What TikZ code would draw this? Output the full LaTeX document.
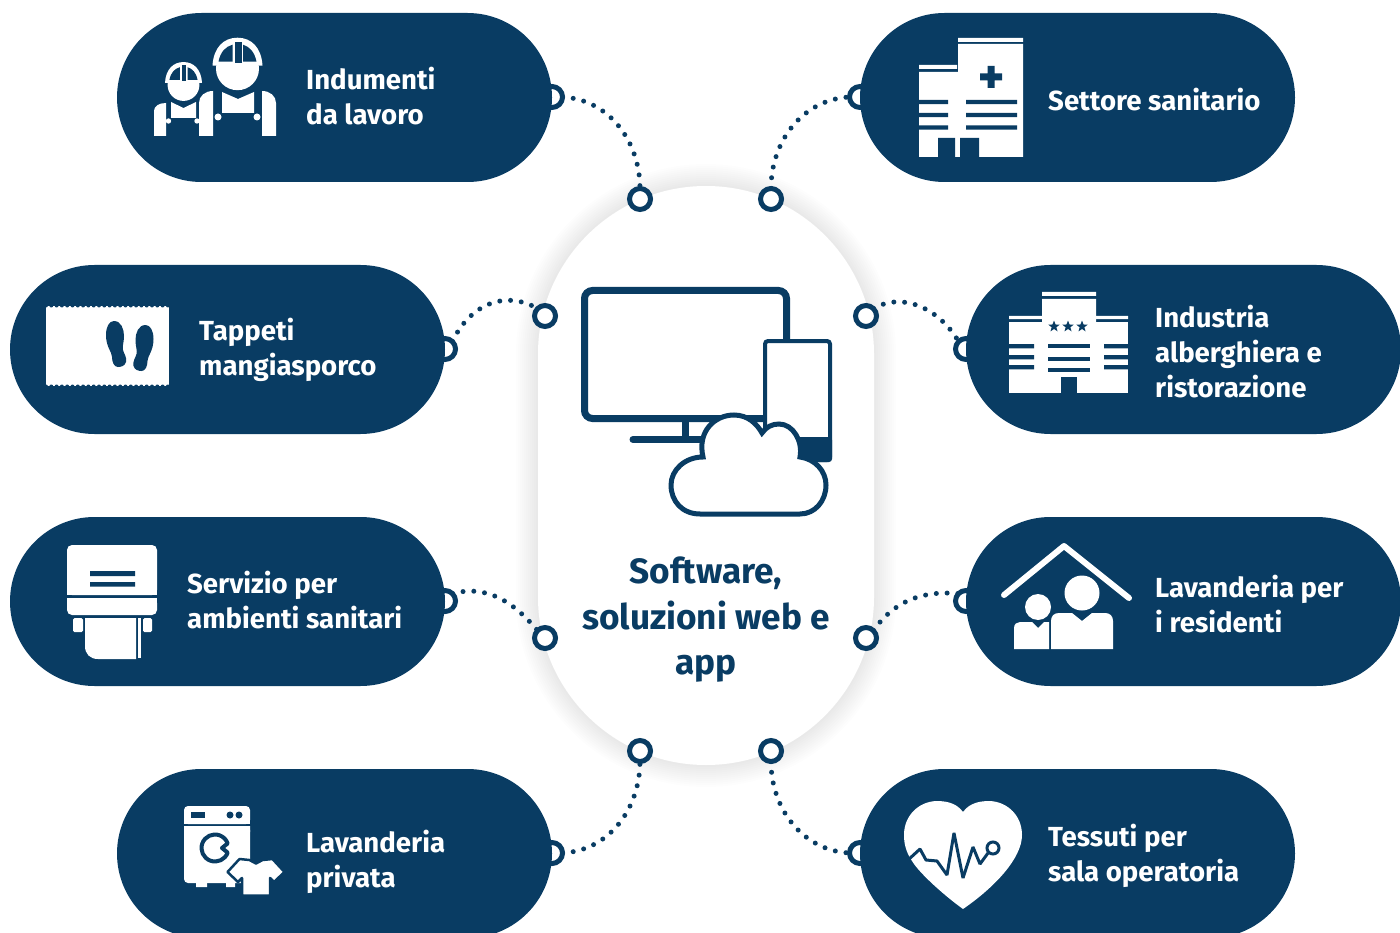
\documentclass[tikz,border=0pt]{standalone}
\usepackage{fontspec}
\setmainfont{Fira Sans}
\usetikzlibrary{shapes.geometric}
\definecolor{navy}{HTML}{093C63}
\tikzset{
  pillbox/.style={rectangle, fill=navy, rounded corners=84.5pt, minimum width=435pt, minimum height=169pt, inner sep=0pt, outer sep=0pt},
  hubbox/.style={rectangle, fill=white, rounded corners=168pt, minimum width=336pt, minimum height=579pt, inner sep=0pt, outer sep=0pt},
  pillring/.style={circle, draw=navy, line width=5pt, fill=white, minimum size=21pt, inner sep=0pt, outer sep=0pt},
  hubring/.style={circle, draw=navy, line width=5pt, fill=white, minimum size=21pt, inner sep=0pt, outer sep=0pt},
  pilltext/.style={anchor=west, align=left, text=white, inner sep=0pt, font=\fontsize{27.6}{35}\selectfont\bfseries},
  hubtext/.style={align=center, text=navy, inner sep=0pt, font=\fontsize{35.2}{45.5}\selectfont\bfseries},
  starmark/.style={star, star points=5, star point ratio=2.4, fill=navy, minimum size=12pt, inner sep=0pt},
  dotline/.style={draw=navy, line width=5pt, line cap=round, dash pattern=on 0pt off 10.8pt}
}
\begin{document}
\begin{tikzpicture}[x=1pt,y=-1pt]
  \useasboundingbox (0,0) rectangle (1400,933);

  % soft halo round the middle
  \foreach \g in {2,4,...,22}
    \fill[black, opacity=.009, rounded corners=168pt+\g pt] (538-\g,186-\g) rectangle (874+\g,765+\g);

  \node[pillring] (ringA) at (552,97) {};
  \node[pillring] (ringB) at (860,97) {};
  \node[pillring] (ringC) at (445,349) {};
  \node[pillring] (ringD) at (966,349) {};
  \node[pillring] (ringE) at (445,601) {};
  \node[pillring] (ringF) at (966,601) {};
  \node[pillring] (ringG) at (552,853) {};
  \node[pillring] (ringH) at (860,853) {};

  \node[pillbox] (pillA) at (334.5,97.5) {};
  \node[pillbox] (pillB) at (1077.5,97.5) {};
  \node[pillbox] (pillC) at (227.5,349.5) {};
  \node[pillbox] (pillD) at (1183.5,349.5) {};
  \node[pillbox] (pillE) at (227.5,601.5) {};
  \node[pillbox] (pillF) at (1183.5,601.5) {};
  \node[pillbox] (pillG) at (334.5,853.5) {};
  \node[pillbox] (pillH) at (1077.5,853.5) {};

  \node[hubbox] (hub) at (706,475.5) {};

  \node[hubring] (hubA) at (640,199) {};
  \node[hubring] (hubB) at (771,199) {};
  \node[hubring] (hubC) at (545,316) {};
  \node[hubring] (hubD) at (866,316) {};
  \node[hubring] (hubE) at (545,638) {};
  \node[hubring] (hubF) at (866,638) {};
  \node[hubring] (hubG) at (640,751) {};
  \node[hubring] (hubH) at (771,751) {};

  \draw[dotline] (ringA.east) to[out=-3,in=90] (hubA.north);
  \draw[dotline] (hubB.north) to[out=90,in=183] (ringB.west);
  \draw[dotline] (ringC.north east) to[out=65,in=150,looseness=1.1] (hubC.north west);
  \draw[dotline] (hubD.north east) to[out=30,in=120] (ringD.north west);
  \draw[dotline] (ringE.north east) to[out=15,in=130] (hubE.north west);
  \draw[dotline] (hubF.north east) to[out=55,in=175] (ringF.north west);
  \draw[dotline] (ringG.east) to[out=3,in=-90] (hubG.south);
  \draw[dotline] (hubH.south) to[out=-90,in=177] (ringH.west);

  \node[pilltext] (textA) at (306,96) {Indumenti\\da lavoro};
  \node[pilltext] (textB) at (1048,100) {Settore sanitario};
  \node[pilltext] (textC) at (199,349.5) {Tappeti\\mangiasporco};
  \node[pilltext] (textD) at (1155,352) {Industria\\alberghiera e\\ristorazione};
  \node[pilltext] (textE) at (187,600) {Servizio per\\ambienti sanitari};
  \node[pilltext] (textF) at (1155,604.5) {Lavanderia per\\i residenti};
  \node[pilltext] (textG) at (306,861.5) {Lavanderia\\privata};
  \node[pilltext] (textH) at (1048,855.5) {Tessuti per\\sala operatoria};
  \node[hubtext] (hubtitle) at (706,620) {Software,\\soluzioni web e\\app};

  % workers
  \foreach \wx/\wy/\ws in {237.5/68.7/1,183.5/85/.74} {
    \begin{scope}[shift={(\wx,\wy)},scale=\ws]
      \fill[white] (0,0) circle[radius=21.5];
      \fill[white] (-25,-3) .. controls (-24,-21) and (-14,-31) .. (0,-31) .. controls (14,-31) and (24,-21) .. (25,-3) -- cycle;
      \fill[navy] (-19,-7) .. controls (-17,-17) and (-12,-22) .. (-5,-24) -- (-5,-7) -- cycle;
      \fill[navy] (-2.5,-27) rectangle (4,-6);
      \fill[navy] (5.5,-24) .. controls (12,-22) and (17,-17) .. (19,-7) -- (5.5,-7) -- cycle;
    \end{scope}
  }
  \fill[white] (199,136) -- (199,103) .. controls (199,96) and (205,91) .. (213,91) -- (213,136) -- cycle;
  \fill[white] (276,136) -- (276,103) .. controls (276,96) and (270,91) .. (262,91) -- (262,136) -- cycle;
  \fill[white] (222,92) -- (238,99) -- (254,92) -- (254,113) -- (222,113) -- cycle;
  \fill[white] (218,117) circle[radius=3.5] (257,117) circle[radius=3.5];
  \fill[white] (154,136) -- (154,111) .. controls (154,106) and (159,103) .. (166,103) -- (166,136) -- cycle;
  \fill[white] (171,102) -- (183.5,108) -- (196,102) -- (196,118) -- (171,118) -- cycle;
  \fill[white] (168.5,121) circle[radius=2.7] (197,121) circle[radius=2.7];

  % hospital
  \fill[white] (958,38) rectangle (1023,42) (958,44) rectangle (1023,157);
  \fill[white] (919,65) rectangle (957,69) (919,72) rectangle (958,157);
  \fill[navy] (980,73.5) rectangle (1002,80.5) (987.5,66) rectangle (994.5,88);
  \foreach \sy in {100,113,125.5} {
    \fill[navy] (919,\sy) rectangle (948,\sy+4.2) (966,\sy) rectangle (1017,\sy+4.2);
  }
  \fill[navy] (938,138) rectangle (955,157) (960,138) rectangle (979,157);

  % mat
  \fill[white] (46,306) rectangle (169,386);
  \foreach \mx in {46,51.3,...,170} {
    \fill[navy] (\mx,305.5) circle[radius=2] (\mx,386.5) circle[radius=2];
  }
  \foreach \fx/\fy/\fs in {0/0/1,259.5/4/-1} {
    \begin{scope}[shift={(\fx,\fy)},xscale=\fs]
      \fill[navy] (114,321) .. controls (121,321) and (124,329) .. (124,336) .. controls (124,343) and (122,346) .. (123,350) .. controls (124,354) and (127,357) .. (126,362) .. controls (125,366) and (121,367) .. (118,367) .. controls (114,367) and (112,362) .. (112,357) .. controls (112,352) and (106,347) .. (106,335) .. controls (106,327) and (109,321) .. (114,321) -- cycle;
    \end{scope}
  }

  % dispenser
  \fill[white, rounded corners=5pt] (67,595) -- (67,545) -- (157,545) -- (157,595) -- cycle;
  \fill[white] (67,590) rectangle (157,595);
  \fill[white, rounded corners=5pt] (67,598) -- (157,598) -- (157,615) -- (67,615) -- cycle;
  \fill[white] (67,598) rectangle (157,604);
  \fill[navy] (90,571) rectangle (135,576) (90,582) rectangle (135,586.5);
  \fill[white, rounded corners=1.5pt] (73,618) rectangle (83,632) (143,618) rectangle (152,632);
  \fill[white] (85,618) -- (136,618) -- (136,659) -- (98,659) .. controls (90,659) and (85,654) .. (85,646) -- cycle;
  \fill[white] (137.5,618) rectangle (141,658);

  % washing machine
  \fill[white, rounded corners=4pt] (184,824) -- (184,806) -- (250,806) -- (250,824) -- cycle;
  \fill[white] (184,820) rectangle (250,824);
  \fill[white, rounded corners=4pt] (184,826) -- (250,826) -- (250,883) -- (184,883) -- cycle;
  \fill[white] (184,826) rectangle (250,832) (196,883) rectangle (207,887) (226,883) rectangle (235,887);
  \fill[navy] (191,812) rectangle (205,818);
  \fill[navy] (230,815) circle[radius=3.5] (239,815) circle[radius=3.5];
  \draw[navy, line width=4pt, line join=round] (215,848) ++(20:13.5) arc[start angle=20, end angle=340, radius=13.5] -- (222,848) -- cycle;
  \draw[navy, line width=2.5pt, fill=white, line join=round] (249.5,860) -- (256,863.5) -- (262.5,860) -- (272.5,859) -- (284.5,872) -- (274,882) -- (270,878) -- (270,895.5) -- (242,895.5) -- (242,878) -- (238,882) -- (227.5,872) -- (239.5,859) -- cycle;

  % heart
  \fill[white] (963,812) .. controls (970,802) and (982,801) .. (990,801) .. controls (1008,802) and (1022,816) .. (1022,835) .. controls (1022,858) and (995,887) .. (963,909) .. controls (945,896) and (920,874) .. (912,861) .. controls (906,852) and (904,844) .. (904,835) .. controls (904,816) and (918,802) .. (936,801) .. controls (944,801) and (956,802) .. (963,812) -- cycle;
  \draw[navy, line width=3pt, line join=bevel] (908,860) -- (920,849) -- (926,860) -- (937,861) -- (947,875) -- (954,833) -- (963,878) -- (973,847) -- (980,864) -- (988,853);
  \draw[navy, line width=3pt] (993,848) circle[radius=6];

  % hotel
  \fill[white] (1042,292) rectangle (1096,296) (1042,299) rectangle (1096,322);
  \fill[white] (1009,316) rectangle (1042,319) (1096,316) rectangle (1128,319);
  \fill[white] (1009,322) rectangle (1128,393);
  \node[starmark] (starA) at (1054,326.5) {};
  \node[starmark] (starB) at (1068,326.5) {};
  \node[starmark] (starC) at (1082,326.5) {};
  \foreach \sy in {344,355,365} {
    \fill[navy] (1009,\sy) rectangle (1034,\sy+4.3) (1104,\sy) rectangle (1128,\sy+4.3);
  }
  \foreach \sy in {344,357,367.5} {
    \fill[navy] (1048,\sy) rectangle (1090,\sy+4.3);
  }
  \fill[navy] (1061,377) rectangle (1077,393);

  % family under a roof
  \draw[white, line width=6pt, line cap=round, line join=round] (1004,595) -- (1064,546) -- (1129,598);
  \fill[white] (1082,593) circle[radius=17.5] (1038,607) circle[radius=13];
  \fill[white] (1051,649) -- (1051,621) .. controls (1051,616) and (1054,613) .. (1059,613) -- (1072,613) -- (1082,621) -- (1092,613) -- (1105,613) .. controls (1110,613) and (1113,616) .. (1113,621) -- (1113,649) -- cycle;
  \fill[white] (1014,649) -- (1014,628) .. controls (1014,624) and (1017,622) .. (1020,622) -- (1032,622) -- (1038,628) -- (1044,622) -- (1049,622) -- (1049,649) -- cycle;

  % screen, phone and cloud
  \draw[navy, line width=7pt, rounded corners=8pt] (584.5,290.5) rectangle (786.5,418.5);
  \draw[navy, line width=7pt] (685.5,422) -- (685.5,440);
  \draw[navy, line width=7pt, line cap=round] (633,439.5) -- (710,439.5);
  \draw[navy, line width=4pt, fill=white, rounded corners=3pt] (765,341) rectangle (830,460);
  \fill[navy, rounded corners=3pt] (790,437) -- (832,437) -- (832,462) -- (790,462) -- cycle;
  \draw[navy, line width=5pt, fill=white] (700,514) .. controls (682,514) and (671,501) .. (671,485) .. controls (671,470) and (685,457) .. (703,457) .. controls (697,431) and (715,415) .. (734,415) .. controls (748,415) and (757,424) .. (762,433) .. controls (766,427) and (772,424) .. (779,424) .. controls (793,424) and (803,441) .. (800,457) .. controls (815,459) and (826,471) .. (826,485) .. controls (826,501) and (815,514) .. (800,514) -- cycle;
\end{tikzpicture}
\end{document}
